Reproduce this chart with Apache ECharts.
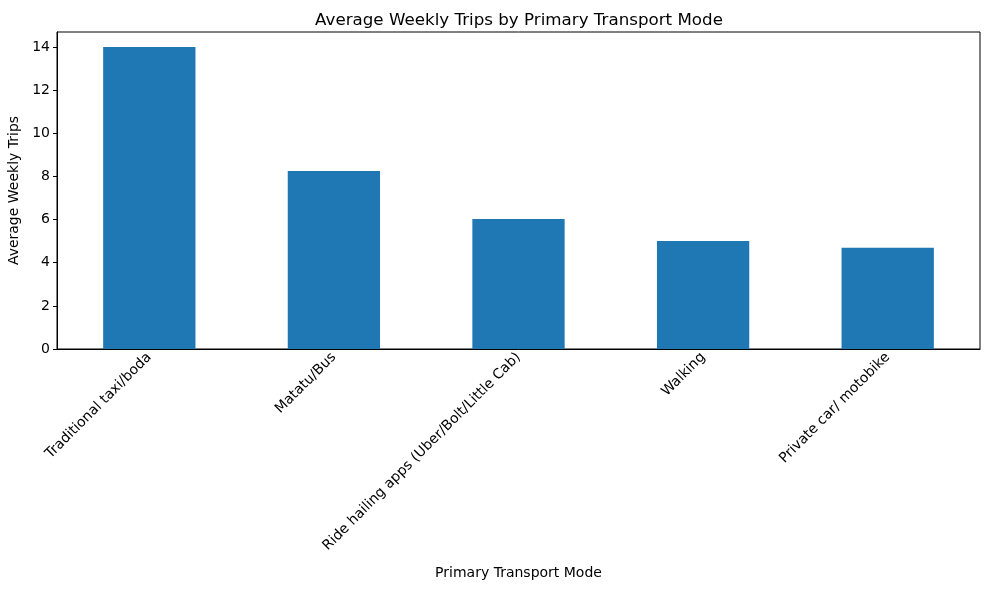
<!DOCTYPE html>
<html>
<head>
<meta charset="utf-8">
<script src="https://cdn.jsdelivr.net/npm/echarts@6/dist/echarts.min.js"></script>
<style>
  html, body { margin: 0; padding: 0; background: #fff; }
  #chart { width: 989px; height: 590px; }
</style>
</head>
<body>
<div id="chart"></div>
<script>
// transport modes and their average weekly trips
const modes = [
    'Traditional taxi/boda',
    'Matatu/Bus',
    'Ride hailing apps (Uber/Bolt/Little Cab)',
    'Walking',
    'Private car/ motobike',
];
const avgTrips = [14.0, 8.26, 6.03, 5.01, 4.69];
const yTicks = [0, 2, 4, 6, 8, 10, 12, 14];

const myChart = echarts.init(document.getElementById('chart'));
const font = 'DejaVu Sans';

const option = {
    animation: false,
    textStyle: { fontFamily: font },
    title: {
        text: 'Average Weekly Trips by Primary Transport Mode',
        left: 514,
        top: 7,
        textAlign: 'center',
        textStyle: { fontFamily: font, fontSize: 16.7, fontWeight: 'normal', color: '#000' },
    },
    grid: {
        left: 57,
        right: 9,
        top: 32,
        bottom: 241,
        outerBoundsMode: 'none',
        show: true,
        borderColor: '#000',
        borderWidth: 1,
    },
    xAxis: {
        type: 'category',
        data: modes,
        name: 'Primary Transport Mode',
        nameLocation: 'middle',
        nameGap: 217,
        nameTextStyle: { fontFamily: font, fontSize: 14, color: '#000' },
        axisLine: { lineStyle: { color: '#000', width: 1 } },
        axisTick: { alignWithLabel: true, length: 4, lineStyle: { color: '#000' } },
        axisLabel: { rotate: 45, fontFamily: font, fontSize: 14, color: '#000', margin: 6, interval: 0 },
    },
    yAxis: {
        type: 'value',
        min: 0,
        max: 14.7,
        interval: 2,
        name: 'Average Weekly Trips',
        nameLocation: 'middle',
        nameGap: 35,
        nameTextStyle: { fontFamily: font, fontSize: 14, color: '#000' },
        axisLine: { show: true, lineStyle: { color: '#000', width: 1 } },
        axisTick: { show: true, length: 4, lineStyle: { color: '#000' }, customValues: yTicks },
        axisLabel: { fontFamily: font, fontSize: 14, color: '#000', margin: 7, customValues: yTicks },
        splitLine: { show: false },
    },
    series: [
        {
            type: 'bar',
            data: avgTrips,
            barWidth: '50%',
            itemStyle: { color: '#1f77b4' },
        },
    ],
};

myChart.setOption(option);
</script>
</body>
</html>
